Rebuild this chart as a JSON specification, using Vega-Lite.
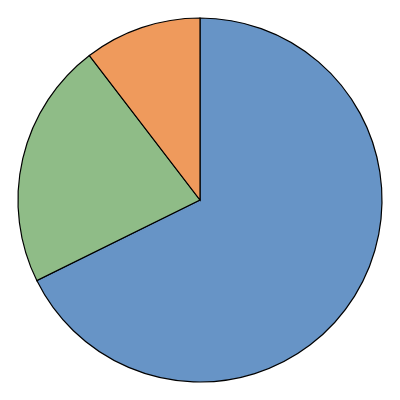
{
  "$schema": "https://vega.github.io/schema/vega-lite/v6.json",
  "width": 400,
  "height": 400,
  "autosize": {"type": "fit", "contains": "padding"},
  "padding": 0,
  "background": "white",
  "view": {"stroke": null},
  "data": {
    "values": [
      {"category": "A", "value": 67.7, "rank": 1},
      {"category": "B", "value": 21.9, "rank": 2},
      {"category": "C", "value": 10.4, "rank": 3}
    ]
  },
  "mark": {"type": "arc", "outerRadius": 182, "stroke": "black", "strokeWidth": 1.2},
  "encoding": {
    "theta": {"field": "value", "type": "quantitative", "stack": true},
    "order": {"field": "rank", "type": "quantitative"},
    "color": {
      "field": "category",
      "type": "nominal",
      "scale": {"domain": ["A", "B", "C"], "range": ["#6794c6", "#8fbc87", "#ef9a5c"]},
      "legend": null
    }
  }
}
